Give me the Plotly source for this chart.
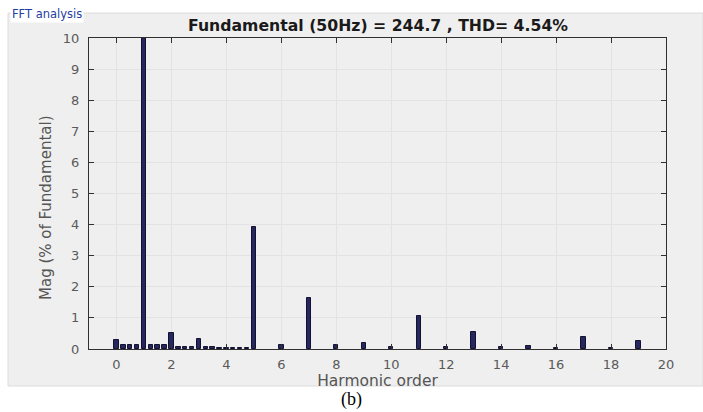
import plotly.graph_objects as go

# Harmonic order (fractional bins up to 5, then integer harmonics)
orders = [0, 0.25, 0.5, 0.75, 1, 1.25, 1.5, 1.75, 2, 2.25, 2.5, 2.75,
          3, 3.25, 3.5, 3.75, 4, 4.25, 4.5, 4.75, 5,
          6, 7, 8, 9, 10, 11, 12, 13, 14, 15, 16, 17, 18, 19]
# Magnitude (% of fundamental)
mags = [0.30, 0.12, 0.12, 0.12, 100, 0.12, 0.12, 0.12, 0.52, 0.08, 0.07, 0.07,
        0.32, 0.06, 0.05, 0.04, 0.04, 0.04, 0.04, 0.04, 3.92,
        0.12, 1.64, 0.12, 0.20, 0.08, 1.05, 0.08, 0.54, 0.05, 0.10, 0.04, 0.39, 0.04, 0.27]

x_ticks = list(range(0, 21, 2))
y_ticks = list(range(0, 11))
title_text = "Fundamental (50Hz) = 244.7 , THD= 4.54%"

W, H = 703, 412
L, R, T, B = 89, 666, 38, 349
pw, ph = R - L, B - T

def px(x):
    return (x - L) / pw

def py(y):
    return (B - y) / ph

FONT = "DejaVu Sans, Arial"

fig = go.Figure()
fig.add_trace(go.Bar(
    x=orders, y=mags, width=0.16,
    marker=dict(color="#27275f", line=dict(color="#121230", width=1)),
    showlegend=False, hoverinfo="skip",
))

axis_common = dict(
    showline=True, linecolor="#303030", linewidth=1, mirror="ticks",
    ticks="inside", ticklen=5, tickcolor="#303030",
    showgrid=True, gridcolor="#e3e3e3", gridwidth=1,
    zeroline=False, automargin=False,
    tickfont=dict(family=FONT, size=13, color="#5a5a5a"),
)

fig.update_layout(
    width=W, height=H,
    margin=dict(l=L, r=W - R, t=T, b=H - B, autoexpand=False),
    paper_bgcolor="white", plot_bgcolor="white",
    bargap=0,
    xaxis=dict(range=[-1, 20], tickvals=x_ticks, ticklabelstandoff=3, **axis_common,
               title=dict(text="Harmonic order", standoff=2,
                          font=dict(family=FONT, size=15.5, color="#555555"))),
    yaxis=dict(range=[0, 10], tickvals=y_ticks, ticklabelstandoff=6, **axis_common),
    shapes=[
        dict(type="rect", xref="paper", yref="paper", layer="below",
             x0=px(8), x1=px(703), y0=py(386), y1=py(13),
             fillcolor="#efefef", line=dict(color="#dcdcdc", width=1)),
    ],
    annotations=[
        dict(text="<b>" + title_text + "</b>", xref="paper", yref="paper",
             x=0.5, y=py(26), xanchor="center", yanchor="middle", showarrow=False,
             font=dict(family=FONT, size=15.7, color="#1a1a1a")),
        dict(text="Mag (% of Fundamental)", xref="paper", yref="paper",
             x=px(46), y=py(208), xanchor="center", yanchor="middle", showarrow=False,
             textangle=-90,
             font=dict(family=FONT, size=15, color="#555555")),
        dict(text="FFT analysis", xref="paper", yref="paper",
             x=px(10), y=py(14), xanchor="left", yanchor="middle", showarrow=False,
             bgcolor="#ffffff",
             font=dict(family=FONT, size=11.5, color="#2340a0")),
        dict(text="(b)", xref="paper", yref="paper",
             x=px(351), y=py(399), xanchor="center", yanchor="middle", showarrow=False,
             font=dict(family="Liberation Serif, Times New Roman", size=18, color="black")),
    ],
)

fig.write_html("out.html", config={"displayModeBar": False},
               post_script="document.body.style.margin='0';document.body.style.overflow='hidden';")
